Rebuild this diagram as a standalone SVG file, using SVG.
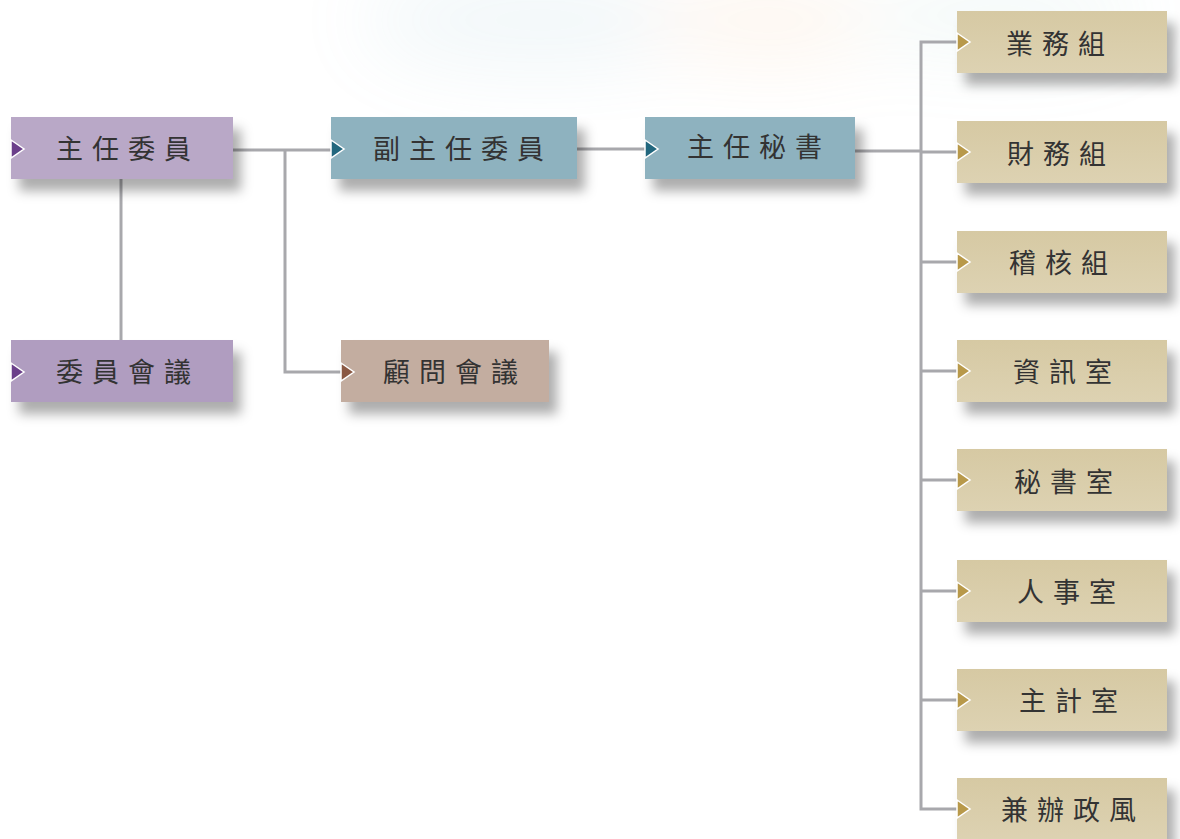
<svg xmlns="http://www.w3.org/2000/svg" width="1180" height="839" viewBox="0 0 1180 839">
<defs>
<filter id="sh" x="-10%" y="-20%" width="130%" height="190%">
<feDropShadow dx="8" dy="12" stdDeviation="6" flood-color="#000" flood-opacity="0.32"/>
</filter>
<filter id="blur" x="-50%" y="-50%" width="200%" height="200%"><feGaussianBlur stdDeviation="40"/></filter>
<linearGradient id="gold" x1="0" y1="0" x2="0" y2="1"><stop offset="0" stop-color="#d6c9a3"/><stop offset="1" stop-color="#ddd2b2"/></linearGradient>
<style>
.t{font-family:"Noto Sans CJK TC","Noto Sans CJK SC",sans-serif;font-size:27px;fill:#333;letter-spacing:9px;text-anchor:middle;dominant-baseline:central}
.c{fill:none;stroke:#a8a8ac;stroke-width:3}
.m{stroke:#fff;stroke-width:1.5}
</style>
</defs>
<rect width="1180" height="839" fill="#fff"/>
<g opacity="0.1" filter="url(#blur)">
<ellipse cx="540" cy="20" rx="180" ry="50" fill="#7fb6c8"/>
<ellipse cx="770" cy="20" rx="120" ry="45" fill="#f0b070"/>
<ellipse cx="1000" cy="15" rx="150" ry="40" fill="#8fc8c0"/>
</g>
<g id="connectors">
<polyline class="c" points="233,150 331,150"/>
<polyline class="c" points="285,150 285,372 341,372"/>
<polyline class="c" points="121,179 121,340"/>
<polyline class="c" points="577,149 645,149"/>
<polyline class="c" points="855,151 921,151"/>
<polyline class="c" points="957,42 921,42 921,809 957,809"/>
<polyline class="c" points="921,152 957,152"/>
<polyline class="c" points="921,262 957,262"/>
<polyline class="c" points="921,371 957,371"/>
<polyline class="c" points="921,480 957,480"/>
<polyline class="c" points="921,591 957,591"/>
<polyline class="c" points="921,700 957,700"/>
</g>
<g id="n1"><rect x="11" y="117" width="222" height="62" fill="#b9a8c7" filter="url(#sh)"/><polygon class="m" points="11,140 24,149 11,158" fill="#6b3f8a"/><text class="t" x="128" y="147">主任委員</text></g>
<g id="n2"><rect x="331" y="117" width="246" height="62" fill="#8eb2bf" filter="url(#sh)"/><polygon class="m" points="331,140 344,149 331,158" fill="#22677e"/><text class="t" x="463" y="147">副主任委員</text></g>
<g id="n3"><rect x="645" y="117" width="210" height="62" fill="#8eb2bf" filter="url(#sh)"/><polygon class="m" points="645,140 658,149 645,158" fill="#22677e"/><text class="t" x="759" y="145">主任秘書</text></g>
<g id="n4"><rect x="11" y="340" width="222" height="62" fill="#b09dc0" filter="url(#sh)"/><polygon class="m" points="11,363 24,372 11,381" fill="#6b3f8a"/><text class="t" x="128" y="370">委員會議</text></g>
<g id="n5"><rect x="341" y="340" width="208" height="62" fill="#c3ada0" filter="url(#sh)"/><polygon class="m" points="341,363 354,372 341,381" fill="#8a5843"/><text class="t" x="455" y="370">顧問會議</text></g>
<g id="r1"><rect x="957" y="11" width="210" height="62" fill="url(#gold)" filter="url(#sh)"/><polygon class="m" points="957,33 970,42 957,51" fill="#b8994a"/><text class="t" x="1060" y="42">業務組</text></g>
<g id="r2"><rect x="957" y="121" width="210" height="62" fill="url(#gold)" filter="url(#sh)"/><polygon class="m" points="957,143 970,152 957,161" fill="#b8994a"/><text class="t" x="1061" y="152">財務組</text></g>
<g id="r3"><rect x="957" y="231" width="210" height="62" fill="url(#gold)" filter="url(#sh)"/><polygon class="m" points="957,253 970,262 957,271" fill="#b8994a"/><text class="t" x="1063" y="261">稽核組</text></g>
<g id="r4"><rect x="957" y="340" width="210" height="62" fill="url(#gold)" filter="url(#sh)"/><polygon class="m" points="957,362 970,371 957,380" fill="#b8994a"/><text class="t" x="1067" y="370">資訊室</text></g>
<g id="r5"><rect x="957" y="449" width="210" height="62" fill="url(#gold)" filter="url(#sh)"/><polygon class="m" points="957,471 970,480 957,489" fill="#b8994a"/><text class="t" x="1068" y="480">秘書室</text></g>
<g id="r6"><rect x="957" y="560" width="210" height="62" fill="url(#gold)" filter="url(#sh)"/><polygon class="m" points="957,582 970,591 957,600" fill="#b8994a"/><text class="t" x="1071" y="590">人事室</text></g>
<g id="r7"><rect x="957" y="669" width="210" height="62" fill="url(#gold)" filter="url(#sh)"/><polygon class="m" points="957,691 970,700 957,709" fill="#b8994a"/><text class="t" x="1073" y="699">主計室</text></g>
<g id="r8"><rect x="957" y="778" width="210" height="62" fill="url(#gold)" filter="url(#sh)"/><polygon class="m" points="957,800 970,809 957,818" fill="#b8994a"/><text class="t" x="1073" y="808">兼辦政風</text></g>
</svg>
